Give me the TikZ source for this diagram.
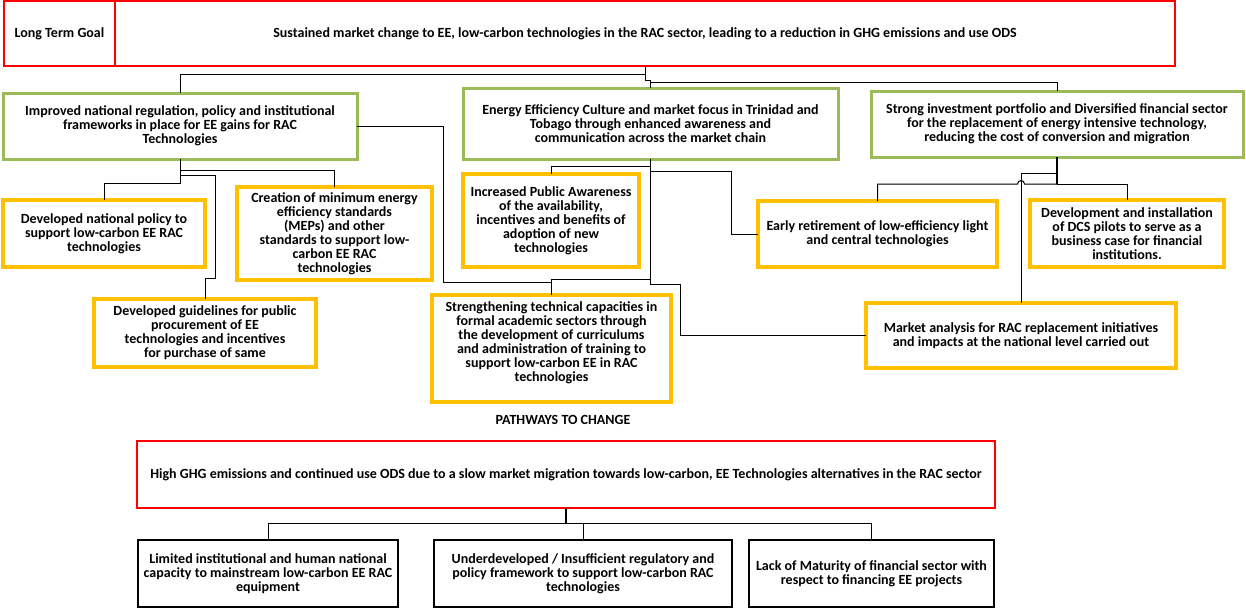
\documentclass[tikz,border=0pt]{standalone}
\usepackage{fontspec}
\setmainfont{Carlito}
\definecolor{rred}{HTML}{FF0000}
\definecolor{ggreen}{HTML}{9BBB59}
\definecolor{yyellow}{HTML}{FFC000}
\tikzset{
  base/.style={draw, align=center, inner sep=0pt, outer sep=0pt,
    font=\fontsize{14}{14}\selectfont\bfseries},
  redbox/.style={base, draw=rred, line width=1.2pt},
  greenbox/.style={base, draw=ggreen, line width=3pt},
  yellowbox/.style={base, draw=yyellow, line width=3.5pt},
  blackbox/.style={base, draw=black, line width=2pt},
  conn/.style={draw=black, line width=1pt},
}
\begin{document}
\begin{tikzpicture}[x=1pt,y=-1pt]
\useasboundingbox (0,0) rectangle (1246,608);
% top
\node[redbox, minimum width=111pt, minimum height=65pt] (ltg) at (59.5,33.5) {Long Term Goal};
\node[redbox, minimum width=1060pt, minimum height=65pt] (goal) at (645,33.5) {Sustained market change to EE, low-carbon technologies in the RAC sector, leading to a reduction in GHG emissions and use ODS};
% green
\node[greenbox, minimum width=354pt, minimum height=66pt] (g1) at (180,126) {Improved national regulation, policy and institutional\\frameworks in place for EE gains for RAC\\Technologies};
\node[greenbox, minimum width=375pt, minimum height=71pt] (g2) at (650.5,123.5) {Energy Efficiency Culture and market focus in Trinidad and\\Tobago through enhanced awareness and\\communication across the market chain};
\node[greenbox, minimum width=372pt, minimum height=66pt] (g3) at (1057,124) {Strong investment portfolio and Diversified financial sector\\for the replacement of energy intensive technology,\\reducing the cost of conversion and migration};
% yellow
\node[yellowbox, minimum width=202pt, minimum height=67pt] (y1) at (104,233.5) {Developed national policy to\\support low-carbon EE RAC\\technologies};
\node[yellowbox, minimum width=195pt, minimum height=93pt] (y2) at (334.5,233.5) {Creation of minimum energy\\efficiency standards\\(MEPs) and other\\standards to support low-\\carbon EE RAC\\technologies};
\node[yellowbox, minimum width=222pt, minimum height=68pt] (y3) at (205,333) {Developed guidelines for public\\procurement of EE\\technologies and incentives\\for purchase of same};
\node[yellowbox, minimum width=176pt, minimum height=93pt] (y4) at (551,220.5) {Increased Public Awareness\\of the availability,\\incentives and benefits of\\adoption of new\\technologies};
\node[yellowbox, minimum width=239pt, minimum height=107pt] (y5) at (551.5,348.5) {Strengthening technical capacities in\\formal academic sectors through\\the development of curriculums\\and administration of training to\\support low-carbon EE in RAC\\technologies\\\mbox{}};
\node[yellowbox, minimum width=239pt, minimum height=66pt] (y6) at (877.5,234) {Early retirement of low-efficiency light\\and central technologies};
\node[yellowbox, minimum width=194pt, minimum height=67pt] (y7) at (1127,233.5) {Development and installation\\of DCS pilots to serve as a\\business case for financial\\institutions.};
\node[yellowbox, minimum width=310pt, minimum height=65pt] (y8) at (1021,335.5) {Market analysis for RAC replacement initiatives\\and impacts at the national level carried out};
\node[font=\fontsize{14}{14}\selectfont\bfseries] (ptc) at (563,420) {PATHWAYS TO CHANGE};
% bottom
\node[redbox, line width=1.6pt, minimum width=858pt, minimum height=67pt] (bred) at (566,474.5) {High GHG emissions and continued use ODS due to a slow market migration towards low-carbon, EE Technologies alternatives in the RAC sector};
\node[blackbox, minimum width=260pt, minimum height=67pt] (b1) at (268,573.5) {Limited institutional and human national\\capacity to mainstream low-carbon EE RAC\\equipment};
\node[blackbox, minimum width=298pt, minimum height=67pt] (b2) at (583,573.5) {Underdeveloped / Insufficient regulatory and\\policy framework to support low-carbon RAC\\technologies};
\node[blackbox, minimum width=245pt, minimum height=67pt] (b3) at (871.5,573.5) {Lack of Maturity of financial sector with\\respect to financing EE projects};
% connectors top
\draw[conn] (goal.south) -- ++(0,8) -| (g1.north);
\draw[conn] (goal.south) -- ++(0,14.7) -| (g2.north);
\draw[conn] (g2.north) ++(0,-6) -| (g3.north);
% g1 subtree
\draw[conn] (g1.south) -- ++(0,11.7) -| (y2.north);
\draw[conn] (g1.south) -- ++(0,24.3) -| (y1.north);
\draw[conn] (g1.south) ++(0,16) -| ++(35,103.3) -| (y3.north);
\draw[conn] (g1.east) -| ++(86,156.7) -| (y5.north);
% g2 subtree
\draw[conn] (g2.south) -- ++(0,7) -| (y4.north);
\draw[conn] (g2.south) -- ++(0,12.7) -- ++(81,0) |- (y6.west);
\draw[conn] (g2.south) -- ++(0,120.3) -| (y5.north);
\draw[conn] (g2.south) -- ++(0,125) -- ++(30,0) |- (y8.west);
% g3 subtree
\coordinate (hop) at (1021,184);
\draw[line width=2pt] (g3.south) -- ++(0,27);
\draw[conn] (g3.south) -- ++(0,27) -| (y7.north);
\draw[conn] (g3.south) -- ++(0,27) -- ([xshift=3.5pt]hop) .. controls ([xshift=3.5pt,yshift=4.5pt]hop) and ([xshift=-3.5pt,yshift=4.5pt]hop) .. ([xshift=-3.5pt]hop) -| (y6.north);
\draw[conn] (g3.south) -- ++(0,16.3) -| (y8.north);
% bottom connectors
\draw[line width=2pt] (bred.south) -- ++(0,15);
\draw[conn] (bred.south) -- ++(0,15) -| (b1.north);
\draw[conn] (bred.south) -- ++(0,15) -| (b2.north);
\draw[conn] (bred.south) -- ++(0,15) -| (b3.north);
\end{tikzpicture}
\end{document}
